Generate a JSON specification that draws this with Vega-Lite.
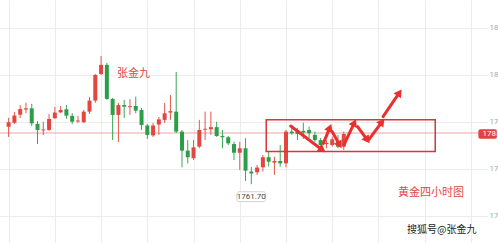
{
  "$schema": "https://vega.github.io/schema/vega-lite/v6.json",
  "width": 487,
  "height": 243,
  "autosize": {"type": "none"},
  "padding": {"left": 0, "top": 0, "right": 11, "bottom": 0},
  "background": "white",
  "config": {
    "view": {"stroke": null},
    "font": "Noto Sans CJK SC",
    "axis": {"labelFont": "Roboto", "gridColor": "#ececec", "gridWidth": 1, "domain": false, "ticks": false}
  },
  "datasets": {
    "candles": [
      {"i":0,"o":1788.0,"c":1789.9,"h":1791.7,"l":1783.6},
      {"i":1,"o":1789.7,"c":1792.7,"h":1794.3,"l":1789.1},
      {"i":2,"o":1793.1,"c":1795.5,"h":1797.2,"l":1791.7},
      {"i":3,"o":1795.3,"c":1795.8,"h":1798.2,"l":1793.8},
      {"i":4,"o":1795.8,"c":1789.4,"h":1797.7,"l":1788.3},
      {"i":5,"o":1789.2,"c":1786.6,"h":1790.4,"l":1780.6},
      {"i":6,"o":1786.4,"c":1786.8,"h":1790.1,"l":1784.5},
      {"i":7,"o":1786.6,"c":1791.3,"h":1793.4,"l":1786.2},
      {"i":8,"o":1791.6,"c":1794.0,"h":1796.4,"l":1791.3},
      {"i":9,"o":1794.1,"c":1795.1,"h":1796.8,"l":1793.8},
      {"i":10,"o":1795.4,"c":1792.7,"h":1797.2,"l":1791.3},
      {"i":11,"o":1792.6,"c":1790.1,"h":1793.8,"l":1789.1},
      {"i":12,"o":1790.2,"c":1790.6,"h":1792.6,"l":1789.6},
      {"i":13,"o":1789.9,"c":1794.4,"h":1795.1,"l":1789.6},
      {"i":14,"o":1794.4,"c":1799.1,"h":1800.6,"l":1793.4},
      {"i":15,"o":1799.1,"c":1810.0,"h":1810.4,"l":1798.1},
      {"i":16,"o":1810.4,"c":1814.3,"h":1818.1,"l":1810.0},
      {"i":17,"o":1814.3,"c":1799.8,"h":1815.1,"l":1799.4},
      {"i":18,"o":1799.8,"c":1793.0,"h":1800.2,"l":1782.3},
      {"i":19,"o":1793.0,"c":1797.2,"h":1798.1,"l":1781.5},
      {"i":20,"o":1797.2,"c":1796.5,"h":1799.4,"l":1791.7},
      {"i":21,"o":1796.3,"c":1796.7,"h":1799.7,"l":1793.0},
      {"i":22,"o":1796.8,"c":1794.8,"h":1800.8,"l":1793.7},
      {"i":23,"o":1795.1,"c":1788.7,"h":1796.0,"l":1786.6},
      {"i":24,"o":1788.5,"c":1784.5,"h":1789.2,"l":1782.8},
      {"i":25,"o":1784.3,"c":1788.5,"h":1789.6,"l":1783.6},
      {"i":26,"o":1788.9,"c":1791.1,"h":1792.1,"l":1784.5},
      {"i":27,"o":1790.9,"c":1793.7,"h":1798.1,"l":1789.6},
      {"i":28,"o":1794.0,"c":1794.6,"h":1801.5,"l":1790.9},
      {"i":29,"o":1794.4,"c":1785.9,"h":1811.3,"l":1785.3},
      {"i":30,"o":1785.9,"c":1777.8,"h":1786.6,"l":1770.7},
      {"i":31,"o":1777.8,"c":1775.0,"h":1782.3,"l":1772.4},
      {"i":32,"o":1774.6,"c":1779.2,"h":1782.3,"l":1773.8},
      {"i":33,"o":1779.5,"c":1786.6,"h":1790.9,"l":1778.8},
      {"i":34,"o":1786.7,"c":1787.1,"h":1794.4,"l":1782.3},
      {"i":35,"o":1786.9,"c":1787.8,"h":1794.4,"l":1784.5},
      {"i":36,"o":1787.8,"c":1784.0,"h":1790.1,"l":1783.7},
      {"i":37,"o":1784.0,"c":1783.5,"h":1786.6,"l":1778.8},
      {"i":38,"o":1783.5,"c":1780.9,"h":1784.0,"l":1780.2},
      {"i":39,"o":1780.6,"c":1776.9,"h":1781.6,"l":1773.8},
      {"i":40,"o":1776.9,"c":1778.8,"h":1781.6,"l":1769.6},
      {"i":41,"o":1778.8,"c":1769.3,"h":1783.1,"l":1764.9},
      {"i":42,"o":1768.9,"c":1768.1,"h":1770.9,"l":1763.5},
      {"i":43,"o":1768.6,"c":1770.6,"h":1771.7,"l":1767.5},
      {"i":44,"o":1770.7,"c":1775.0,"h":1776.0,"l":1768.9},
      {"i":45,"o":1775.0,"c":1773.1,"h":1777.4,"l":1771.0},
      {"i":46,"o":1772.7,"c":1773.4,"h":1775.2,"l":1767.5},
      {"i":47,"o":1773.4,"c":1772.4,"h":1780.2,"l":1771.0},
      {"i":48,"o":1772.4,"c":1785.9,"h":1786.6,"l":1770.7},
      {"i":49,"o":1785.9,"c":1785.2,"h":1788.0,"l":1784.5},
      {"i":50,"o":1786.3,"c":1784.9,"h":1787.5,"l":1782.3},
      {"i":51,"o":1786.2,"c":1785.5,"h":1789.7,"l":1782.8},
      {"i":52,"o":1786.6,"c":1785.2,"h":1788.0,"l":1783.1},
      {"i":53,"o":1784.5,"c":1782.3,"h":1785.9,"l":1781.6},
      {"i":54,"o":1782.3,"c":1780.2,"h":1783.2,"l":1778.8},
      {"i":55,"o":1780.6,"c":1781.1,"h":1782.3,"l":1778.8},
      {"i":56,"o":1780.2,"c":1782.6,"h":1783.8,"l":1779.5},
      {"i":57,"o":1781.6,"c":1779.5,"h":1784.5,"l":1778.8},
      {"i":58,"o":1779.5,"c":1784.9,"h":1785.9,"l":1778.1}
    ],
    "arrows": [
      {"x1":48.81,"y1":1788.3,"x2":54.29,"y2":1778.1},
      {"x1":54.46,"y1":1780.9,"x2":55.59,"y2":1787.6},
      {"x1":55.98,"y1":1785.9,"x2":57.29,"y2":1780.2},
      {"x1":58.02,"y1":1780.2,"x2":59.83,"y2":1789.7},
      {"x1":60.39,"y1":1788.0,"x2":62.08,"y2":1782.3},
      {"x1":62.37,"y1":1782.6,"x2":64.63,"y2":1790.1},
      {"x1":64.80,"y1":1792.3,"x2":67.63,"y2":1802.5}
    ]
  },
  "layer": [
    {
      "data": {"values": [{"p": 1785.3}]},
      "mark": {"type": "rule", "color": "#eba3a3", "strokeWidth": 1},
      "encoding": {
        "y": {"field": "p", "type": "quantitative", "title": null,
              "scale": {"domain": [1738.5, 1841.9], "nice": false, "zero": false},
              "axis": {"orient": "right", "values": [1750, 1770, 1790, 1810, 1830], "format": "d", "grid": true, "labelColor": "#a8a8a8", "labelFontSize": 8, "labelPadding": 2}}
      }
    },
    {
      "data": {"name": "candles"},
      "mark": {"type": "rule", "strokeWidth": 1},
      "encoding": {
        "x": {"field": "i", "type": "quantitative", "title": null,
              "scale": {"domain": [-0.627, 81.92], "nice": false, "zero": false},
              "axis": {"values": [0, 8, 16, 24, 32, 40, 48, 56, 64, 72, 80], "grid": true, "labels": false}},
        "y": {"field": "l", "type": "quantitative", "title": null, "scale": {"domain": [1738.5, 1841.9], "nice": false, "zero": false}},
        "y2": {"field": "h"},
        "color": {"condition": {"test": "datum.c >= datum.o", "value": "#e4574f"}, "value": "#3aa655"}
      }
    },
    {
      "data": {"name": "candles"},
      "mark": {"type": "bar", "size": 4},
      "encoding": {
        "x": {"field": "i", "type": "quantitative", "title": null, "scale": {"domain": [-0.627, 81.92], "nice": false, "zero": false}},
        "y": {"field": "o", "type": "quantitative", "title": null, "scale": {"domain": [1738.5, 1841.9], "nice": false, "zero": false}},
        "y2": {"field": "c"},
        "color": {"condition": {"test": "datum.c >= datum.o", "value": "#e2463f"}, "value": "#2b9e48"}
      }
    },
    {
      "data": {"values": [{"x1": 44.58, "x2": 73.83, "y1": 1790.9, "y2": 1777.4}]},
      "mark": {"type": "rect", "fill": null, "fillOpacity": 0, "stroke": "#d8363b", "strokeWidth": 1.5},
      "encoding": {
        "x": {"field": "x1", "type": "quantitative", "title": null, "scale": {"domain": [-0.627, 81.92], "nice": false, "zero": false}},
        "x2": {"field": "x2"},
        "y": {"field": "y1", "type": "quantitative", "title": null, "scale": {"domain": [1738.5, 1841.9], "nice": false, "zero": false}},
        "y2": {"field": "y2"}
      }
    },
    {
      "data": {"name": "arrows"},
      "mark": {"type": "rule", "color": "#e8302f", "strokeWidth": 3, "strokeCap": "round"},
      "encoding": {
        "x": {"field": "x1", "type": "quantitative", "title": null, "scale": {"domain": [-0.627, 81.92], "nice": false, "zero": false}},
        "x2": {"field": "x2"},
        "y": {"field": "y1", "type": "quantitative", "title": null, "scale": {"domain": [1738.5, 1841.9], "nice": false, "zero": false}},
        "y2": {"field": "y2"}
      }
    },
    {
      "data": {"name": "arrows"},
      "mark": {"type": "point", "shape": "triangle-up", "filled": true, "color": "#e8302f", "size": 80, "opacity": 1,
               "angle": {"expr": "atan2(scale('x', datum.x2) - scale('x', datum.x1), scale('y', datum.y1) - scale('y', datum.y2)) * 180 / PI"}},
      "encoding": {
        "x": {"field": "x2", "type": "quantitative", "title": null, "scale": {"domain": [-0.627, 81.92], "nice": false, "zero": false}},
        "y": {"field": "y2", "type": "quantitative", "title": null, "scale": {"domain": [1738.5, 1841.9], "nice": false, "zero": false}}
      }
    },
    {
      "data": {"values": [{"x1": 39.5, "x2": 44.46, "y1": 1760.3, "y2": 1756.1}]},
      "mark": {"type": "rect", "fill": "white", "stroke": "#d0d0d0", "strokeWidth": 1, "cornerRadius": 2},
      "encoding": {
        "x": {"field": "x1", "type": "quantitative", "title": null, "scale": {"domain": [-0.627, 81.92], "nice": false, "zero": false}},
        "x2": {"field": "x2"},
        "y": {"field": "y1", "type": "quantitative", "title": null, "scale": {"domain": [1738.5, 1841.9], "nice": false, "zero": false}},
        "y2": {"field": "y2"}
      }
    },
    {
      "data": {"values": [{"x": 41.98, "y": 1758.2, "t": "1761.70"}]},
      "mark": {"type": "text", "font": "Roboto", "fontSize": 8, "color": "#444444", "align": "center", "baseline": "middle"},
      "encoding": {
        "x": {"field": "x", "type": "quantitative", "title": null, "scale": {"domain": [-0.627, 81.92], "nice": false, "zero": false}},
        "y": {"field": "y", "type": "quantitative", "title": null, "scale": {"domain": [1738.5, 1841.9], "nice": false, "zero": false}},
        "text": {"field": "t"}
      }
    },
    {
      "data": {"values": [{"x1": 81.3, "x2": 84.5, "y1": 1786.9, "y2": 1782.9}]},
      "mark": {"type": "rect", "fill": "#e0423f", "cornerRadius": 2},
      "encoding": {
        "x": {"field": "x1", "type": "quantitative", "title": null, "scale": {"domain": [-0.627, 81.92], "nice": false, "zero": false}},
        "x2": {"field": "x2"},
        "y": {"field": "y1", "type": "quantitative", "title": null, "scale": {"domain": [1738.5, 1841.9], "nice": false, "zero": false}},
        "y2": {"field": "y2"}
      }
    },
    {
      "data": {"values": [{"x": 82.0, "y": 1784.9, "t": "1785.30"}]},
      "mark": {"type": "text", "font": "Roboto", "fontSize": 8, "color": "white", "align": "left", "baseline": "middle"},
      "encoding": {
        "x": {"field": "x", "type": "quantitative", "title": null, "scale": {"domain": [-0.627, 81.92], "nice": false, "zero": false}},
        "y": {"field": "y", "type": "quantitative", "title": null, "scale": {"domain": [1738.5, 1841.9], "nice": false, "zero": false}},
        "text": {"field": "t"}
      }
    },
    {
      "data": {"values": [{"x": 21.6, "y": 1810.6, "t": "张金九"}, {"x": 73.1, "y": 1759.6, "t": "黄金四小时图"}]},
      "mark": {"type": "text", "fontSize": 11, "color": "#e0464b", "align": "center", "baseline": "middle"},
      "encoding": {
        "x": {"field": "x", "type": "quantitative", "title": null, "scale": {"domain": [-0.627, 81.92], "nice": false, "zero": false}},
        "y": {"field": "y", "type": "quantitative", "title": null, "scale": {"domain": [1738.5, 1841.9], "nice": false, "zero": false}},
        "text": {"field": "t"}
      }
    },
    {
      "data": {"values": [{"x": 74.97, "y": 1744.0, "t": "搜狐号@张金九"}]},
      "mark": {"type": "text", "fontSize": 10, "color": "#222222", "align": "center", "baseline": "middle"},
      "encoding": {
        "x": {"field": "x", "type": "quantitative", "title": null, "scale": {"domain": [-0.627, 81.92], "nice": false, "zero": false}},
        "y": {"field": "y", "type": "quantitative", "title": null, "scale": {"domain": [1738.5, 1841.9], "nice": false, "zero": false}},
        "text": {"field": "t"}
      }
    }
  ]
}
